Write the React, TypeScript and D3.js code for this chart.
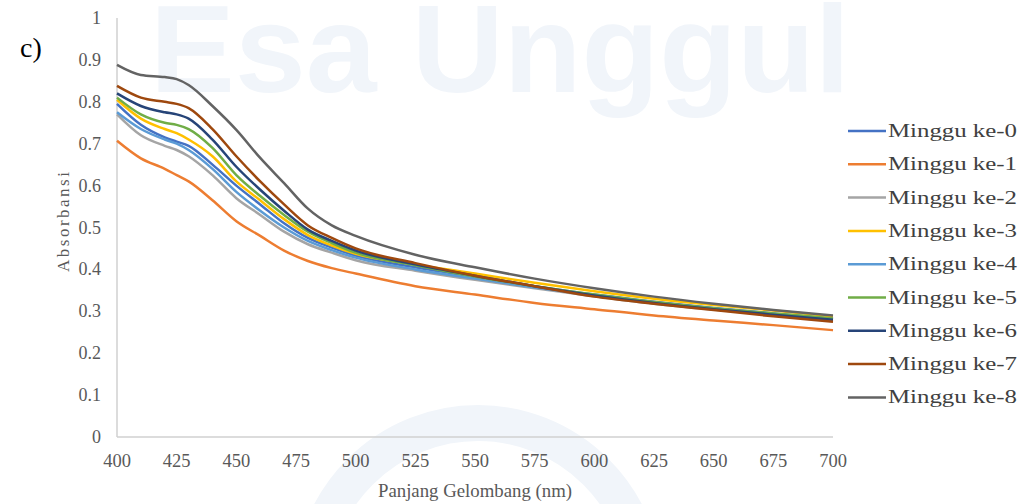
import React from "react";
import * as d3 from "d3";

const wavelengths = [400, 410, 420, 425, 430, 440, 450, 460, 470, 480, 490, 500, 525, 550, 575, 600, 625, 650, 675, 700];

const seriesNames = ["Minggu ke-0", "Minggu ke-1", "Minggu ke-2", "Minggu ke-3", "Minggu ke-4", "Minggu ke-5", "Minggu ke-6", "Minggu ke-7", "Minggu ke-8"];
const seriesColors = ["#4472C4", "#ED7D31", "#A5A5A5", "#FFC000", "#5B9BD5", "#70AD47", "#264478", "#9E480E", "#636363"];

const week0 = [0.795, 0.745, 0.715, 0.705, 0.695, 0.65, 0.6, 0.555, 0.51, 0.475, 0.452, 0.433, 0.405, 0.382, 0.36, 0.34, 0.323, 0.308, 0.295, 0.283];
const week1 = [0.707, 0.665, 0.64, 0.625, 0.61, 0.565, 0.515, 0.48, 0.445, 0.42, 0.403, 0.39, 0.36, 0.34, 0.32, 0.305, 0.29, 0.278, 0.267, 0.255];
const week2 = [0.77, 0.72, 0.695, 0.685, 0.67, 0.625, 0.57, 0.53, 0.49, 0.46, 0.44, 0.422, 0.397, 0.375, 0.355, 0.336, 0.318, 0.304, 0.291, 0.279];
const week3 = [0.805, 0.76, 0.735, 0.725, 0.71, 0.67, 0.61, 0.565, 0.52, 0.482, 0.457, 0.437, 0.412, 0.39, 0.368, 0.348, 0.33, 0.315, 0.302, 0.288];
const week4 = [0.775, 0.735, 0.71, 0.7, 0.685, 0.64, 0.585, 0.54, 0.5, 0.468, 0.446, 0.428, 0.4, 0.378, 0.357, 0.338, 0.32, 0.306, 0.293, 0.281];
const week5 = [0.81, 0.77, 0.75, 0.745, 0.735, 0.69, 0.625, 0.575, 0.53, 0.49, 0.463, 0.44, 0.41, 0.383, 0.36, 0.34, 0.322, 0.307, 0.295, 0.283];
const week6 = [0.82, 0.79, 0.775, 0.77, 0.76, 0.71, 0.645, 0.59, 0.54, 0.495, 0.468, 0.445, 0.412, 0.385, 0.36, 0.338, 0.32, 0.305, 0.292, 0.28];
const week7 = [0.838, 0.81, 0.8, 0.795, 0.785, 0.735, 0.67, 0.61, 0.555, 0.505, 0.475, 0.45, 0.415, 0.385, 0.36, 0.335, 0.318, 0.303, 0.288, 0.275];
const week8 = [0.888, 0.864, 0.859, 0.854, 0.84, 0.79, 0.733, 0.666, 0.606, 0.545, 0.505, 0.48, 0.435, 0.405, 0.378, 0.355, 0.335, 0.318, 0.303, 0.29];

const allSeries = [week0, week1, week2, week3, week4, week5, week6, week7, week8];

const xTicks = [400, 425, 450, 475, 500, 525, 550, 575, 600, 625, 650, 675, 700];
const yTicks = [0, 0.1, 0.2, 0.3, 0.4, 0.5, 0.6, 0.7, 0.8, 0.9, 1];

const W = 1021;
const H = 504;
const serif = { fontFamily: '"Liberation Serif", "Times New Roman", "DejaVu Serif", serif' };

export default function App() {
  const x = d3.scaleLinear().domain([400, 700]).range([117, 833]);
  const y = d3.scaleLinear().domain([0, 1]).range([437, 18]);
  const line = d3
    .line<number>()
    .x((_, i) => x(wavelengths[i]))
    .y((v) => y(v))
    .curve(d3.curveMonotoneX);

  const legendY0 = 131;
  const legendStep = 33.3;

  return (
    <svg width={W} height={H} style={{ position: "absolute", left: 0, top: 0, background: "#fff" }}>
      <rect x={0} y={0} width={W} height={H} fill="#fff" />
      {/* watermark */}
      <text
        x={500}
        y={92}
        textAnchor="middle"
        style={{ fontFamily: '"Liberation Sans", Arial, sans-serif', fontWeight: "bold" }}
        fontSize={124}
        textLength={700}
        lengthAdjust="spacingAndGlyphs"
        fill="#f1f5fa"
      >
        Esa Unggul
      </text>
      <circle cx={478} cy={590} r={167} fill="none" stroke="#f1f5fa" strokeWidth={36} />

      {/* axes */}
      <line x1={117} x2={117} y1={18} y2={437} stroke="#d0d0d0" strokeWidth={1.5} />
      <line x1={117} x2={833} y1={437} y2={437} stroke="#d0d0d0" strokeWidth={1.5} />

      {yTicks.map((t) => (
        <text key={t} x={101} y={y(t) + 6} textAnchor="end" style={serif} fontSize={18} fill="#595959">
          {t === 0 || t === 1 ? String(t) : t.toFixed(1)}
        </text>
      ))}
      {xTicks.map((t) => (
        <text key={t} x={x(t)} y={467} textAnchor="middle" style={serif} fontSize={18.5} fill="#595959">
          {t}
        </text>
      ))}

      <text x={475} y={497} textAnchor="middle" style={serif} fontSize={18.8} fill="#595959">
        Panjang Gelombang (nm)
      </text>
      <text
        transform={`translate(69, 222) rotate(-90)`}
        textAnchor="middle"
        style={serif}
        fontSize={17}
        textLength={100}
        lengthAdjust="spacing"
        fill="#595959"
      >
        Absorbansi
      </text>

      <text x={20} y={57} style={serif} fontSize={28} fill="#000">
        c)
      </text>

      {allSeries.map((s, i) => (
        <path key={i} d={line(s) || ""} fill="none" stroke={seriesColors[i]} strokeWidth={2.5} strokeLinejoin="round" />
      ))}

      {seriesNames.map((n, i) => (
        <g key={n}>
          <line x1={848} x2={886} y1={legendY0 + i * legendStep} y2={legendY0 + i * legendStep} stroke={seriesColors[i]} strokeWidth={2.5} />
          <text
            x={888}
            y={legendY0 + i * legendStep + 6}
            style={serif}
            fontSize={19}
            textLength={129}
            lengthAdjust="spacingAndGlyphs"
            fill="#404040"
          >
            {n}
          </text>
        </g>
      ))}
    </svg>
  );
}
